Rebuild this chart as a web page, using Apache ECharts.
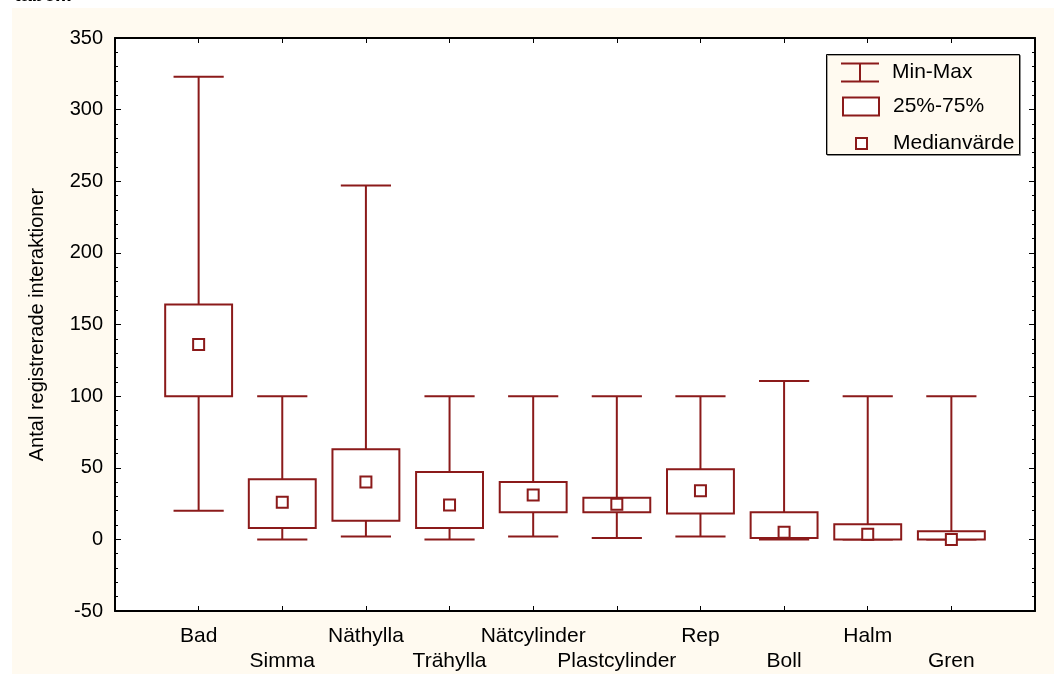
<!DOCTYPE html>
<html>
<head>
<meta charset="utf-8">
<script src="https://cdn.jsdelivr.net/npm/echarts@6/dist/echarts.min.js"></script>
<style>html,body{margin:0;padding:0;background:#fff;}#c{width:1054px;height:674px;}</style>
</head>
<body>
<div id="c"></div>
<script>
const categories = ['Bad','Simma','Näthylla','Trähylla','Nätcylinder','Plastcylinder','Rep','Boll','Halm','Gren'];
const minVals    = [20, 0, 2, 0, 2, 1, 2, 0, 0, 0];
const q1Vals     = [100, 8, 13, 8, 19, 19, 18, 1, 0, 0];
const medianVals = [136, 26, 40, 24, 31, 24.5, 34, 5, 3.5, 0];
const q3Vals     = [164, 42, 63, 47, 40, 29, 49, 19, 10.5, 5.6];
const maxVals    = [323, 100, 247, 100, 100, 100, 100, 110.6, 100, 100];
const yTicks = {min: -50, max: 350, interval: 50};

const RED = '#8b1a1a';
const FONT = '"Liberation Sans", Arial, sans-serif';

const whiskerData = categories.map((c, i) => [i + 1, minVals[i], maxVals[i]]);
const boxData = categories.map((c, i) => [i + 1, q1Vals[i], q3Vals[i]]);
const medData = categories.map((c, i) => [i + 1, medianVals[i]]);

const chart = echarts.init(document.getElementById('c'), null, {renderer: 'canvas'});

function whiskerItem(params, api) {
  const x = api.value(0);
  const pMin = api.coord([x, api.value(1)]);
  const pMax = api.coord([x, api.value(2)]);
  const half = api.size([0.6, 0])[0] / 2;
  const st = {stroke: RED, lineWidth: 2, fill: 'none'};
  return {type: 'group', children: [
    {type: 'line', shape: {x1: pMin[0], y1: pMin[1], x2: pMax[0], y2: pMax[1]}, style: st},
    {type: 'line', shape: {x1: pMin[0] - half, y1: pMin[1], x2: pMin[0] + half, y2: pMin[1]}, style: st},
    {type: 'line', shape: {x1: pMax[0] - half, y1: pMax[1], x2: pMax[0] + half, y2: pMax[1]}, style: st}
  ]};
}
function boxItem(params, api) {
  const x = api.value(0);
  const p1 = api.coord([x, api.value(1)]);
  const p3 = api.coord([x, api.value(2)]);
  const w = api.size([0.8, 0])[0];
  return {type: 'rect', shape: {x: p1[0] - w / 2, y: p3[1], width: w, height: p1[1] - p3[1]},
    style: {fill: '#fff', stroke: RED, lineWidth: 2}};
}
function medItem(params, api) {
  const p = api.coord([api.value(0), api.value(1)]);
  const s = 11;
  return {type: 'rect', shape: {x: p[0] - s / 2, y: p[1] - s / 2, width: s, height: s},
    style: {fill: '#fff', stroke: RED, lineWidth: 2}};
}

const legendText = {fontFamily: FONT, fontSize: 21, color: '#000'};

chart.setOption({
  backgroundColor: '#fff',
  animation: false,
  graphic: [
    {type: 'rect', z: -10, shape: {x: 12, y: 8, width: 1054, height: 680}, style: {fill: '#fffaf0'}},
    {type: 'text', left: 14, top: -15, style: {text: 'tabell.', font: 'bold 20px ' + FONT, fill: '#000'}},
    {type: 'rect', z: 5, shape: {x: 826.5, y: 54.5, width: 193, height: 100},
      style: {fill: '#fffaf0', stroke: '#000', lineWidth: 1, shadowColor: 'rgba(0,0,0,0.35)', shadowOffsetX: 1, shadowOffsetY: 1}}
  ],
  grid: {left: 115, right: 19, top: 38, bottom: 60, show: true, backgroundColor: '#fff', borderWidth: 0},
  legend: [
    {data: [{name: 'Min-Max', icon: 'path://M0,0h38v2h-38z M18,1h2v18h-2z M0,18h38v2h-38z', itemStyle: {color: RED}}],
      left: 836, top: 57, itemWidth: 38, itemHeight: 20, selectedMode: false, z: 10,
      textStyle: Object.assign({padding: [0, 0, 0, 8]}, legendText)},
    {data: [{name: '25%-75%', icon: 'rect', itemStyle: {color: '#fff', borderColor: RED, borderWidth: 2}}],
      left: 837, top: 91, itemWidth: 36, itemHeight: 18, selectedMode: false, z: 10,
      textStyle: Object.assign({padding: [0, 0, 0, 9]}, legendText)},
    {data: [{name: 'Medianvärde', icon: 'rect', itemStyle: {color: '#fff', borderColor: RED, borderWidth: 2}}],
      left: 850, top: 128, itemWidth: 11, itemHeight: 11, selectedMode: false, z: 10,
      textStyle: Object.assign({padding: [0, 0, 0, 21]}, legendText)}
  ],
  xAxis: [
    {type: 'value', min: 0, max: 11, interval: 1, position: 'bottom',
      axisLine: {show: true, onZero: false, lineStyle: {color: '#000', width: 2}},
      axisTick: {show: true, inside: true, length: 5, lineStyle: {color: '#000', width: 1}},
      splitLine: {show: false},
      axisLabel: {margin: 13, fontFamily: FONT, fontSize: 21, color: '#000', lineHeight: 25,
        formatter: v => {
          const i = Math.round(v) - 1;
          if (i < 0 || i >= categories.length) return '';
          return (i % 2 === 1 ? '\n' : '') + categories[i];
        }}},
    {type: 'value', min: 0, max: 11, interval: 1, position: 'top',
      axisLine: {show: true, onZero: false, lineStyle: {color: '#000', width: 2}},
      axisTick: {show: true, inside: true, length: 5, lineStyle: {color: '#000', width: 1}},
      splitLine: {show: false}, axisLabel: {show: false}}
  ],
  yAxis: [
    {type: 'value', min: yTicks.min, max: yTicks.max, interval: yTicks.interval, position: 'left',
      name: 'Antal registrerade interaktioner', nameLocation: 'middle', nameGap: 68, nameRotate: 90,
      nameTextStyle: {fontFamily: FONT, fontSize: 20, color: '#000'},
      axisLine: {show: true, onZero: false, lineStyle: {color: '#000', width: 2}},
      axisTick: {show: true, inside: true, length: 6, lineStyle: {color: '#000', width: 1}},
      minorTick: {show: true, splitNumber: 5, length: 3, lineStyle: {color: '#000', width: 1}},
      splitLine: {show: false},
      axisLabel: {margin: 12, fontFamily: FONT, fontSize: 20, color: '#000'}},
    {type: 'value', min: yTicks.min, max: yTicks.max, interval: yTicks.interval, position: 'right',
      axisLine: {show: true, onZero: false, lineStyle: {color: '#000', width: 2}},
      axisTick: {show: true, inside: true, length: 6, lineStyle: {color: '#000', width: 1}},
      minorTick: {show: true, splitNumber: 5, length: 3, lineStyle: {color: '#000', width: 1}},
      splitLine: {show: false}, axisLabel: {show: false}}
  ],
  series: [
    {name: 'Min-Max', type: 'custom', renderItem: whiskerItem, data: whiskerData,
      encode: {x: 0, y: [1, 2]}, itemStyle: {color: RED}, z: 2},
    {name: '25%-75%', type: 'custom', renderItem: boxItem, data: boxData,
      encode: {x: 0, y: [1, 2]}, itemStyle: {color: RED}, z: 3},
    {name: 'Medianvärde', type: 'custom', renderItem: medItem, data: medData,
      encode: {x: 0, y: 1}, itemStyle: {color: RED}, z: 4}
  ]
});
</script>
</body>
</html>
